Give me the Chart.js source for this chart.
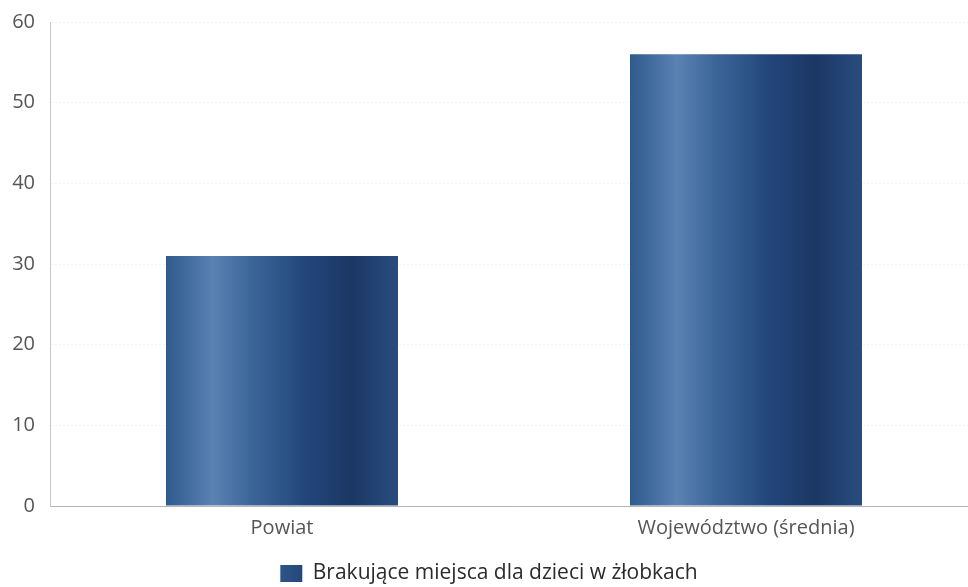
<!DOCTYPE html>
<html>
<head>
<meta charset="utf-8">
<script src="https://cdn.jsdelivr.net/npm/chart.js@4/dist/chart.umd.min.js"></script>
<style>
  html, body { margin: 0; padding: 0; background: #fff; overflow: hidden; }
  #wrap { width: 968px; height: 587px; overflow: hidden; }
</style>
</head>
<body>
<div id="wrap"><canvas id="myChart" width="978" height="587"></canvas></div>
<script>
  const labels = ['Powiat', 'Województwo (średnia)'];
  const values = [31, 56];
  const seriesName = 'Brakujące miejsca dla dzieci w żłobkach';
  const yTicks = [0, 10, 20, 30, 40, 50, 60];

  const BAR_PCT = 0.5;

  // cylinder-like shading across each bar
  function barGradient(context) {
    const chart = context.chart;
    const xs = chart.scales.x;
    if (!xs || context.dataIndex === undefined) return '#2c5688';
    const cw = xs.width / labels.length;
    const bw = cw * BAR_PCT;
    const cx = xs.getPixelForValue(context.dataIndex);
    if (!isFinite(cx) || !isFinite(bw) || bw <= 0) return '#2c5688';
    const g = chart.ctx.createLinearGradient(cx - bw / 2, 0, cx + bw / 2, 0);
    g.addColorStop(0, '#2e5a8c');
    g.addColorStop(0.2, '#5a82b2');
    g.addColorStop(0.38, '#3a6498');
    g.addColorStop(0.6, '#23467a');
    g.addColorStop(0.8, '#1b3865');
    g.addColorStop(1, '#294c7e');
    return g;
  }

  const data = {
    labels: labels,
    datasets: [{
      label: seriesName,
      data: values,
      backgroundColor: barGradient,
      borderWidth: 0,
      barPercentage: 1,
      categoryPercentage: BAR_PCT,
    }]
  };

  const config = {
    type: 'bar',
    data: data,
    options: {
      responsive: false,
      animation: false,
      layout: { padding: { top: 22, right: 0, left: 0, bottom: -7 } },
      plugins: {
        tooltip: { enabled: false },
        legend: {
          position: 'bottom',
          labels: {
            color: '#2b2b2b',
            font: { family: 'Open Sans', size: 21 },
            boxWidth: 22,
            boxHeight: 17,
            padding: 0,
          }
        }
      },
      scales: {
        x: {
          grid: { display: false },
          border: { color: '#b5b5b5', width: 1 },
          afterFit: (axis) => { axis.height = 57; },
          ticks: {
            color: '#555',
            font: { family: 'Open Sans', size: 20 },
            padding: 2,
          }
        },
        y: {
          min: 0,
          max: 60,
          afterBuildTicks: (axis) => { axis.ticks = yTicks.map(v => ({ value: v })); },
          afterFit: (axis) => {
            axis.width = 50;
            axis.paddingTop = 0;
            axis.paddingBottom = 0;
          },
          grid: { color: '#f4f4f4', drawTicks: false },
          border: { color: '#c8c8c8', dash: [2, 2] },
          ticks: {
            color: '#555',
            font: { family: 'Open Sans', size: 20 },
            padding: 15,
          }
        }
      }
    }
  };

  const myChart = new Chart(
    document.getElementById('myChart'),
    config
  );
</script>
</body>
</html>
